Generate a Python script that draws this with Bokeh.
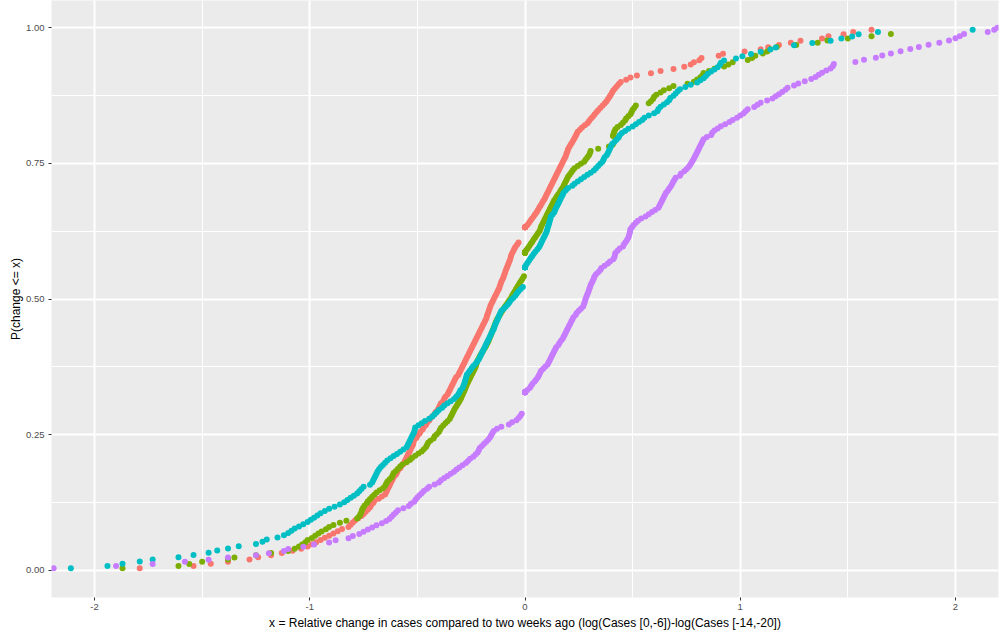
import numpy as np
from bokeh.plotting import figure
from bokeh.models import FixedTicker, ColumnDataSource
from bokeh.embed import file_html
from bokeh.resources import INLINE

red_x = [-1.79, -1.54, -1.46, -1.38, -1.28, -1.24, -1.18, -1.13, -1.08, -1.04, -1.01, -0.99, -0.97, -0.95, -0.93,
         -0.91, -0.89, -0.87, -0.85, -0.82, -0.81, -0.80, -0.79, -0.775, -0.76,
         -0.75, -0.74, -0.73, -0.72, -0.715, -0.705, -0.70, -0.68, -0.665, -0.65,
         -0.645, -0.64, -0.635, -0.63, -0.625, -0.62, -0.615, -0.61,
         -0.60, -0.595, -0.59, -0.58, -0.575, -0.565, -0.56,
         -0.555, -0.55, -0.545, -0.54, -0.535, -0.53, -0.525, -0.52, -0.518, -0.515,
         -0.505, -0.50, -0.49, -0.485, -0.475, -0.47,
         -0.46, -0.455, -0.445, -0.44, -0.43, -0.42, -0.415, -0.405, -0.40,
         -0.395, -0.39, -0.38, -0.375, -0.37, -0.36, -0.355, -0.35, -0.345, -0.34,
         -0.335, -0.33, -0.325, -0.32, -0.31, -0.305, -0.30,
         -0.295, -0.29, -0.285, -0.28, -0.275, -0.27, -0.265, -0.26, -0.255, -0.25,
         -0.245, -0.24, -0.235, -0.23, -0.225, -0.22, -0.215, -0.21,
         -0.205, -0.20, -0.195, -0.19, -0.185, -0.18, -0.177, -0.174, -0.17, -0.167, -0.163, -0.16,
         -0.155, -0.15, -0.145, -0.14, -0.135, -0.13, -0.125, -0.12, -0.117, -0.113, -0.11,
         -0.105, -0.10, -0.097, -0.093, -0.09, -0.086, -0.082, -0.078, -0.074, -0.07, -0.067, -0.065,
         -0.06, -0.055, -0.05, -0.045, -0.037, -0.03,
         0.0, 0.0, 0.0, 0.0, 0.0, 0.0, 0.0,
         0.01, 0.018, 0.025, 0.032, 0.04, 0.047, 0.054, 0.06,
         0.066, 0.072, 0.078, 0.084, 0.09, 0.095, 0.10, 0.105,
         0.11, 0.115, 0.12, 0.125, 0.13, 0.135, 0.14, 0.145, 0.15,
         0.155, 0.16, 0.165, 0.17, 0.175, 0.18, 0.185, 0.19, 0.193, 0.197, 0.20,
         0.206, 0.212, 0.218, 0.224, 0.23, 0.235, 0.24, 0.245,
         0.255, 0.265, 0.278, 0.29, 0.298, 0.306, 0.315, 0.323, 0.332, 0.34,
         0.35, 0.36, 0.37, 0.378, 0.385, 0.392, 0.398, 0.404, 0.41,
         0.418, 0.427, 0.436, 0.445, 0.47, 0.49,
         0.52, 0.585, 0.63, 0.69, 0.74, 0.77, 0.785, 0.81, 0.82, 0.90, 0.92, 1.02, 1.095, 1.13,
         1.18, 1.235, 1.28, 1.38, 1.41, 1.48, 1.525, 1.61, 2.5]

green_x = [-1.87, -1.61, -1.56, -1.50, -1.38, -1.35, -1.25, -1.18, -1.10, -1.07, -1.05, -1.035, -1.02, -1.01,
           -0.99, -0.975, -0.96, -0.945, -0.925, -0.91, -0.89, -0.86, -0.83, -0.78,
           -0.77, -0.765, -0.76, -0.757, -0.752, -0.745, -0.735, -0.73,
           -0.72, -0.71, -0.70, -0.69, -0.675, -0.66, -0.65, -0.645, -0.64, -0.63,
           -0.62, -0.615, -0.61, -0.60, -0.59, -0.58, -0.57, -0.55, -0.535, -0.525,
           -0.51, -0.495, -0.48, -0.47, -0.46, -0.455, -0.45, -0.44, -0.425, -0.42,
           -0.41, -0.40, -0.395, -0.39, -0.38, -0.37, -0.36, -0.35, -0.345, -0.34,
           -0.335, -0.33, -0.325, -0.318, -0.312, -0.306, -0.30,
           -0.296, -0.291, -0.287, -0.282, -0.278, -0.274, -0.27, -0.265,
           -0.26, -0.255, -0.25, -0.245, -0.24, -0.235, -0.23, -0.227, -0.224, -0.22,
           -0.215, -0.21, -0.204, -0.198, -0.192, -0.186, -0.18, -0.175, -0.17,
           -0.166, -0.162, -0.158, -0.154, -0.15, -0.146, -0.142, -0.138, -0.135,
           -0.13, -0.124, -0.118, -0.112, -0.106, -0.10, -0.093, -0.086, -0.079, -0.072, -0.065,
           -0.06, -0.054, -0.048, -0.042, -0.036, -0.03, -0.024, -0.017, -0.011, -0.005,
           0.0, 0.0, 0.0, 0.0, 0.0, 0.0, 0.0, 0.0, 0.0, 0.0, 0.0,
           0.006, 0.013, 0.02, 0.027, 0.034, 0.04, 0.047, 0.054, 0.061, 0.068, 0.072, 0.075,
           0.08, 0.085, 0.09, 0.095, 0.10, 0.105, 0.11, 0.115, 0.12, 0.125, 0.13, 0.135,
           0.142, 0.148, 0.155, 0.162, 0.168, 0.175, 0.18, 0.185, 0.19, 0.195, 0.20,
           0.207, 0.215, 0.222, 0.23, 0.245, 0.26, 0.275, 0.282, 0.29, 0.297, 0.302, 0.305,
           0.34, 0.39, 0.408, 0.41, 0.41, 0.41, 0.41, 0.412, 0.415, 0.42, 0.43, 0.445,
           0.455, 0.465, 0.47, 0.48, 0.49, 0.495, 0.50, 0.508, 0.515, 0.575,
           0.585, 0.595, 0.60, 0.61, 0.63, 0.645, 0.67, 0.69, 0.755, 0.785,
           0.80, 0.815, 0.825, 0.83, 0.855, 0.88, 0.925, 0.945, 0.965, 1.035, 1.055, 1.07,
           1.105, 1.125, 1.14, 1.17, 1.26, 1.36, 1.405, 1.50, 1.61, 1.70, 2.4, 2.7, 3.0]

cyan_x = [-2.11, -1.94, -1.87, -1.79, -1.73, -1.61, -1.54, -1.47, -1.43, -1.38, -1.33, -1.25, -1.22, -1.20,
          -1.15, -1.12, -1.10, -1.085, -1.07, -1.05, -1.03, -1.01, -0.995, -0.98, -0.965, -0.95, -0.93,
          -0.91, -0.885, -0.86, -0.84, -0.825, -0.81, -0.795, -0.78, -0.77, -0.76, -0.75, -0.72, -0.71,
          -0.705, -0.70, -0.695, -0.69, -0.685, -0.678, -0.67, -0.66, -0.65, -0.64, -0.625, -0.61, -0.595,
          -0.58, -0.565, -0.55, -0.545, -0.54, -0.535, -0.53, -0.525, -0.52, -0.515, -0.512, -0.51, -0.495,
          -0.48, -0.465, -0.445, -0.43, -0.42, -0.41, -0.40, -0.385, -0.375, -0.36, -0.345, -0.33, -0.32,
          -0.31, -0.305, -0.30, -0.29, -0.286, -0.282, -0.279, -0.276, -0.273, -0.27, -0.262, -0.255,
          -0.248, -0.24, -0.23, -0.222, -0.215, -0.21, -0.205, -0.20, -0.195, -0.19, -0.185, -0.18, -0.175,
          -0.17, -0.165, -0.16, -0.155, -0.15, -0.145, -0.142, -0.138, -0.133, -0.128, -0.124, -0.12,
          -0.115, -0.11, -0.10, -0.09, -0.08, -0.072, -0.065, -0.055, -0.045, -0.038, -0.03, -0.02, -0.01,
          0.0, 0.0, 0.0, 0.0, 0.0, 0.0, 0.0, 0.0, 0.0,
          0.005, 0.012, 0.019, 0.026, 0.033, 0.04, 0.048, 0.057, 0.065, 0.07, 0.075, 0.08, 0.085, 0.09,
          0.095, 0.10, 0.103, 0.106, 0.109, 0.112, 0.115, 0.118, 0.12, 0.128, 0.136, 0.14,
          0.145, 0.15, 0.155, 0.16, 0.165, 0.17, 0.175, 0.18, 0.19, 0.20, 0.22, 0.23, 0.245, 0.26,
          0.275, 0.29, 0.305, 0.32, 0.33, 0.34, 0.35, 0.36, 0.365, 0.37, 0.38, 0.385, 0.39, 0.395, 0.40,
          0.405, 0.415, 0.425,
          0.435, 0.44, 0.45, 0.465, 0.48, 0.50, 0.515, 0.53, 0.545, 0.555, 0.575, 0.60, 0.615, 0.62, 0.63,
          0.645, 0.66, 0.67, 0.675, 0.69, 0.70, 0.71, 0.72, 0.745, 0.77, 0.80, 0.815, 0.83, 0.84, 0.85,
          0.865, 0.88, 0.895, 0.905, 0.91, 0.925, 0.98, 1.01, 1.05, 1.095, 1.14, 1.165, 1.25, 1.335,
          1.42, 1.47, 1.52, 1.55, 1.64, 2.08, 2.5]

purple_x = [-2.19, -1.90, -1.73, -1.58, -1.47, -1.38, -1.25, -1.19, -1.12, -1.10, -1.03, -0.98,
            -0.91, -0.88, -0.82, -0.80, -0.77, -0.75, -0.73, -0.71, -0.69, -0.665, -0.645, -0.63, -0.62,
            -0.61, -0.60, -0.59, -0.565, -0.54, -0.53, -0.515, -0.508, -0.50, -0.49, -0.48, -0.47, -0.455,
            -0.445, -0.42, -0.40, -0.39, -0.375, -0.36, -0.345, -0.33, -0.318, -0.305, -0.29, -0.275,
            -0.265, -0.255, -0.24, -0.23, -0.22, -0.215, -0.21, -0.20, -0.19, -0.18, -0.17, -0.162, -0.157,
            -0.151, -0.145, -0.13, -0.11, -0.075, -0.06, -0.04, -0.03, -0.022, -0.015,
            0.0, 0.0, 0.0, 0.0, 0.0, 0.0, 0.0, 0.0, 0.0, 0.0,
            0.01, 0.022, 0.028, 0.035, 0.045, 0.052, 0.06, 0.065, 0.07, 0.075, 0.085, 0.095, 0.105, 0.11,
            0.115, 0.12, 0.125, 0.13, 0.135, 0.14, 0.145, 0.155, 0.16, 0.167, 0.175, 0.18, 0.185, 0.19,
            0.195, 0.20, 0.205, 0.21, 0.215, 0.22, 0.225, 0.235, 0.24, 0.25, 0.26, 0.27, 0.274, 0.277,
            0.28, 0.283, 0.287, 0.291, 0.295, 0.298, 0.302, 0.305, 0.31, 0.315, 0.32, 0.323,
            0.33, 0.34, 0.35, 0.355, 0.37, 0.385, 0.395, 0.41, 0.415, 0.418, 0.42, 0.43, 0.44, 0.455, 0.46,
            0.467, 0.474, 0.48, 0.483, 0.486, 0.488, 0.49, 0.497, 0.505, 0.515, 0.525, 0.54, 0.56, 0.575,
            0.59, 0.605, 0.62, 0.625, 0.63, 0.635, 0.64,
            0.645, 0.65, 0.655, 0.663, 0.67, 0.677, 0.683, 0.688, 0.694, 0.70, 0.72, 0.725, 0.74, 0.75,
            0.76, 0.767, 0.773, 0.779, 0.785, 0.79, 0.795, 0.80, 0.805, 0.81, 0.815, 0.82, 0.825, 0.83,
            0.845, 0.865, 0.87, 0.88, 0.895, 0.91, 0.93, 0.95, 0.965, 0.985, 1.0,
            1.015, 1.025, 1.035, 1.065, 1.08, 1.095, 1.125, 1.15, 1.165, 1.18, 1.195, 1.21, 1.22, 1.25,
            1.27, 1.30, 1.33, 1.35, 1.365, 1.38, 1.40, 1.42, 1.43, 1.435,
            1.535, 1.575, 1.63, 1.66, 1.70, 1.745, 1.79, 1.83, 1.875, 1.925, 1.97, 2.0, 2.02, 2.04,
            2.15, 2.18, 2.195]

series = [("a", red_x, "#F8766D"), ("b", green_x, "#7CAE00"),
          ("c", cyan_x, "#00BFC4"), ("d", purple_x, "#C77CFF")]

x_ticks = [-2, -1, 0, 1, 2]
x_minor = [-1.5, -0.5, 0.5, 1.5]
y_ticks = [0, 0.25, 0.5, 0.75, 1.0]
y_minor = [0.125, 0.375, 0.625, 0.875]
y_tick_labels = {0: "0.00", 0.25: "0.25", 0.5: "0.50", 0.75: "0.75", 1.0: "1.00"}

p = figure(width=1000, height=633, x_range=(-2.2, 2.2), y_range=(-0.05, 1.05),
           output_backend="svg", toolbar_location=None,
           min_border_left=51, min_border_right=2, min_border_top=0, min_border_bottom=36)
p.background_fill_color = "#EBEBEB"
p.border_fill_color = "white"
p.outline_line_color = None

for name, xs, col in series:
    arr = np.array(xs, dtype=float)
    srt = np.sort(arr)
    ecdf = np.searchsorted(srt, arr, side="right") / len(arr)
    src = ColumnDataSource(dict(x=arr, y=ecdf))
    p.scatter("x", "y", source=src, size=6, fill_color=col, line_color=None)

p.xaxis.ticker = FixedTicker(ticks=x_ticks, minor_ticks=x_minor)
p.yaxis.ticker = FixedTicker(ticks=y_ticks, minor_ticks=y_minor)
p.yaxis.major_label_overrides = y_tick_labels
p.xaxis.major_label_overrides = {t: str(t) for t in x_ticks}

for g in (p.xgrid, p.ygrid):
    g.grid_line_color = "white"
    g.grid_line_width = 2
    g.minor_grid_line_color = "white"
    g.minor_grid_line_width = 1

for ax in (p.xaxis, p.yaxis):
    ax.axis_line_color = None
    ax.minor_tick_line_color = None
    ax.major_tick_line_color = "#333333"
    ax.major_tick_in = 0
    ax.major_tick_out = 3
    ax.major_label_text_font = "Liberation Sans"
    ax.major_label_text_font_size = "9.5px"
    ax.major_label_text_color = "#4D4D4D"
    ax.axis_label_text_font = "Liberation Sans"
    ax.axis_label_text_font_size = "12px"
    ax.axis_label_text_font_style = "normal"
    ax.axis_label_text_color = "black"

p.xaxis.major_label_standoff = 2
p.yaxis.major_label_standoff = 3
p.xaxis.axis_label_standoff = 3
p.yaxis.axis_label_standoff = 0
p.xaxis.axis_label = "x = Relative change in cases compared to two weeks ago (log(Cases [0,-6])-log(Cases [-14,-20])"
p.yaxis.axis_label = "P(change <= x)"

open("out.html", "w").write(file_html(p, INLINE))
